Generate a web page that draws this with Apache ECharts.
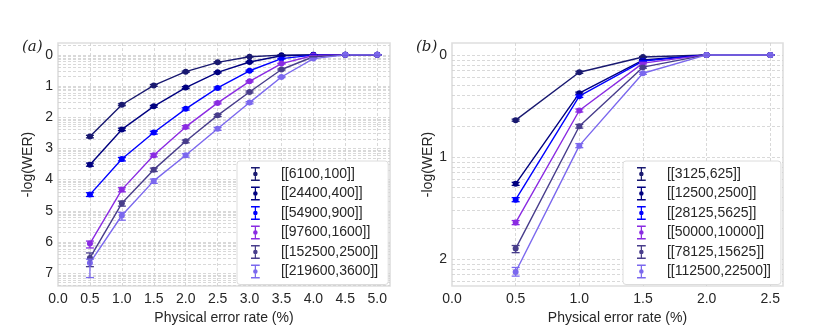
<!DOCTYPE html>
<html><head><meta charset="utf-8">
<script src="https://cdn.jsdelivr.net/npm/echarts@6/dist/echarts.min.js"></script>
<style>html,body{margin:0;padding:0;background:#fff}#c{width:831px;height:330px}</style>
</head><body><div id="c"></div>
<script>
// ---------- data ----------
const xA = [0.5, 1.0, 1.5, 2.0, 2.5, 3.0, 3.5, 4.0, 4.5, 5.0];
const xTicksA = [0, 0.5, 1, 1.5, 2, 2.5, 3, 3.5, 4, 4.5, 5];
const yTicksA = [0, 1, 2, 3, 4, 5, 6, 7];
const namesA = ['[[6100,100]]', '[[24400,400]]', '[[54900,900]]', '[[97600,1600]]', '[[152500,2500]]', '[[219600,3600]]'];
const a1 = [2.62, 1.60, 0.98, 0.54, 0.24, 0.06, 0.01, 0, 0, 0];
const a2 = [3.52, 2.39, 1.65, 1.05, 0.56, 0.23, 0.03, 0, 0, 0];
const a3 = [4.48, 3.34, 2.49, 1.73, 1.06, 0.51, 0.12, 0.01, 0, 0];
const a4 = [6.05, 4.32, 3.22, 2.31, 1.54, 0.85, 0.28, 0.02, 0, 0];
const a5 = [6.51, 4.76, 3.68, 2.77, 1.94, 1.19, 0.47, 0.06, 0, 0];
const a6 = [6.67, 5.15, 4.04, 3.22, 2.37, 1.53, 0.71, 0.12, 0, 0];
// error bar extents (up = toward 0, down = away from 0)
const a1Up = [0.04, 0.03, 0.03, 0.02, 0.02, 0.01, 0.01, 0, 0, 0];
const a1Dn = [0.04, 0.03, 0.03, 0.02, 0.02, 0.01, 0.01, 0, 0, 0];
const a2Up = [0.05, 0.04, 0.03, 0.03, 0.02, 0.02, 0.01, 0, 0, 0];
const a2Dn = [0.05, 0.04, 0.03, 0.03, 0.02, 0.02, 0.01, 0, 0, 0];
const a3Up = [0.06, 0.05, 0.04, 0.03, 0.03, 0.02, 0.01, 0, 0, 0];
const a3Dn = [0.06, 0.06, 0.05, 0.04, 0.03, 0.02, 0.01, 0, 0, 0];
const a4Up = [0.08, 0.06, 0.05, 0.04, 0.03, 0.02, 0.01, 0, 0, 0];
const a4Dn = [0.14, 0.07, 0.05, 0.04, 0.03, 0.02, 0.01, 0, 0, 0];
const a5Up = [0.16, 0.07, 0.05, 0.04, 0.03, 0.03, 0.02, 0.01, 0, 0];
const a5Dn = [0.28, 0.09, 0.06, 0.05, 0.04, 0.03, 0.02, 0.01, 0, 0];
const a6Up = [0.12, 0.10, 0.06, 0.05, 0.04, 0.03, 0.02, 0.01, 0, 0];
const a6Dn = [0.47, 0.15, 0.08, 0.06, 0.05, 0.04, 0.02, 0.01, 0, 0];

const xB = [0.5, 1.0, 1.5, 2.0, 2.5];
const xTicksB = [0, 0.5, 1, 1.5, 2, 2.5];
const yTicksB = [0, 1, 2];
const namesB = ['[[3125,625]]', '[[12500,2500]]', '[[28125,5625]]', '[[50000,10000]]', '[[78125,15625]]', '[[112500,22500]]'];
const b1 = [0.64, 0.17, 0.02, 0, 0];
const b2 = [1.265, 0.375, 0.05, 0, 0];
const b3 = [1.42, 0.405, 0.06, 0, 0];
const b4 = [1.645, 0.545, 0.08, 0, 0];
const b5 = [1.90, 0.70, 0.12, 0, 0];
const b6 = [2.13, 0.89, 0.18, 0, 0];
const b1Up = [0.01, 0.01, 0.005, 0, 0];
const b1Dn = [0.01, 0.01, 0.005, 0, 0];
const b2Up = [0.015, 0.01, 0.005, 0, 0];
const b2Dn = [0.015, 0.01, 0.005, 0, 0];
const b3Up = [0.02, 0.012, 0.006, 0, 0];
const b3Dn = [0.02, 0.012, 0.006, 0, 0];
const b4Up = [0.02, 0.015, 0.008, 0, 0];
const b4Dn = [0.02, 0.015, 0.008, 0, 0];
const b5Up = [0.03, 0.018, 0.01, 0, 0];
const b5Dn = [0.04, 0.018, 0.01, 0, 0];
const b6Up = [0.045, 0.02, 0.01, 0, 0];
const b6Dn = [0.04, 0.02, 0.01, 0, 0];

const colors = ['#191970', '#000080', '#0000ff', '#8a2be2', '#483d8b', '#7b68ee'];

// ---------- build ----------
const seriesA = [a1, a2, a3, a4, a5, a6];
const upA = [a1Up, a2Up, a3Up, a4Up, a5Up, a6Up];
const dnA = [a1Dn, a2Dn, a3Dn, a4Dn, a5Dn, a6Dn];
const seriesB = [b1, b2, b3, b4, b5, b6];
const upB = [b1Up, b2Up, b3Up, b4Up, b5Up, b6Up];
const dnB = [b1Dn, b2Dn, b3Dn, b4Dn, b5Dn, b6Dn];

const GRID_COLOR = '#cfcfcf';
const FONT = 'Liberation Sans, Arial, sans-serif';
const errIcon = 'path://M0,0H10V1.6H0Z M4.3,0H5.7V16H4.3Z M0,14.4H10V16H0Z M5,5.3A2.6,2.6,0,1,1,5,10.5A2.6,2.6,0,1,1,5,5.3Z';

function logGridValues(lo, hi) {
  const out = [];
  for (let k = Math.floor(lo) - 1; k <= Math.ceil(hi) + 1; k++) {
    for (let m = 1; m <= 9; m++) {
      const v = k - Math.log10(m);
      if (v > lo + 0.005 && v < hi - 0.005) out.push(v);
    }
  }
  return out;
}

function gridSeries(idx, yLo, yHi, xTicks) {
  const data = logGridValues(yLo, yHi).map(v => ({ yAxis: v }))
    .concat(xTicks.filter(x => x > 0).map(x => ({ xAxis: x })));
  return {
    type: 'line', xAxisIndex: idx, yAxisIndex: idx, data: [], z: 1, silent: true,
    markLine: {
      silent: true, z: 1, symbol: ['none', 'none'], label: { show: false }, animation: false,
      lineStyle: { type: [3, 2], color: GRID_COLOR, width: 0.8 },
      data: data
    }
  };
}

function errSeries(idx, xs, ys, up, dn, color, name) {
  return {
    type: 'custom', name: name, xAxisIndex: idx, yAxisIndex: idx, z: 4, silent: true,
    data: xs.map((x, i) => [x, ys[i] - up[i], ys[i] + dn[i]]),
    renderItem: function (params, api) {
      const p0 = api.coord([api.value(0), api.value(1)]);
      const p1 = api.coord([api.value(0), api.value(2)]);
      const w = 4;
      const st = { stroke: color, lineWidth: 1.3, fill: null };
      return {
        type: 'group', children: [
          { type: 'line', shape: { x1: p0[0], y1: p0[1], x2: p1[0], y2: p1[1] }, style: st },
          { type: 'line', shape: { x1: p0[0] - w, y1: p0[1], x2: p0[0] + w, y2: p0[1] }, style: st },
          { type: 'line', shape: { x1: p1[0] - w, y1: p1[1], x2: p1[0] + w, y2: p1[1] }, style: st }
        ]
      };
    }
  };
}

const series = [];
series.push(gridSeries(0, -0.38, 7.41, xTicksA));
series.push(gridSeries(1, -0.117, 2.267, xTicksB));
seriesA.forEach((ys, i) => {
  series.push({
    type: 'line', name: namesA[i], xAxisIndex: 0, yAxisIndex: 0, z: 3,
    data: xA.map((x, j) => [x, ys[j]]), color: colors[i],
    symbol: 'circle', symbolSize: 6, lineStyle: { width: 1.4 }, animation: false
  });
  series.push(errSeries(0, xA, ys, upA[i], dnA[i], colors[i], namesA[i]));
});
seriesB.forEach((ys, i) => {
  series.push({
    type: 'line', name: namesB[i], xAxisIndex: 1, yAxisIndex: 1, z: 3,
    data: xB.map((x, j) => [x, ys[j]]), color: colors[i],
    symbol: 'circle', symbolSize: 6, lineStyle: { width: 1.4 }, animation: false
  });
  series.push(errSeries(1, xB, ys, upB[i], dnB[i], colors[i], namesB[i]));
});

const axisLabelStyle = { color: '#262626', fontSize: 14, fontFamily: FONT };
function xAxisDef(idx, max, ticks) {
  return {
    type: 'value', gridIndex: idx, min: 0, max: max,
    name: 'Physical error rate (%)', nameLocation: 'middle', nameGap: 25,
    nameTextStyle: { color: '#262626', fontSize: 14, fontFamily: FONT },
    axisLine: { show: false }, axisTick: { show: false }, splitLine: { show: false },
    axisLabel: Object.assign({ customValues: ticks, formatter: v => v.toFixed(1), margin: 6 }, axisLabelStyle)
  };
}
function yAxisDef(idx, min, max, ticks, gap) {
  return {
    type: 'value', gridIndex: idx, min: min, max: max, inverse: true,
    name: '-log(WER)', nameLocation: 'middle', nameGap: gap, nameRotate: 90,
    nameTextStyle: { color: '#262626', fontSize: 14, fontFamily: FONT },
    axisLine: { show: false }, axisTick: { show: false }, splitLine: { show: false },
    axisLabel: Object.assign({ customValues: ticks, formatter: v => String(Math.round(v)), margin: 5 }, axisLabelStyle)
  };
}

function legendDef(names, left) {
  return {
    data: names.map(n => ({ name: n, icon: errIcon })),
    orient: 'vertical', left: left, top: 161, z: 20,
    itemWidth: 9, itemHeight: 14, itemGap: 5.5,
    padding: [6, 10, 6, 14],
    backgroundColor: '#ffffff', borderColor: '#dcdcdc', borderWidth: 1, borderRadius: 3,
    itemStyle: { borderWidth: 0 },
    textStyle: { color: '#262626', fontSize: 14, fontFamily: FONT, padding: [0, 0, 0, 16] },
    selectedMode: false
  };
}

const option = {
  animation: false,
  backgroundColor: '#fff',
  grid: [
    { left: 58, top: 43, width: 332, height: 245, show: true, borderColor: '#dedede', borderWidth: 1.6, backgroundColor: '#fff' },
    { left: 452, top: 43, width: 331, height: 245, show: true, borderColor: '#dedede', borderWidth: 1.6, backgroundColor: '#fff' }
  ],
  xAxis: [xAxisDef(0, 5.2, xTicksA), xAxisDef(1, 2.6, xTicksB)],
  yAxis: [yAxisDef(0, -0.38, 7.41, yTicksA, 23), yAxisDef(1, -0.117, 2.267, yTicksB, 9)],
  legend: [legendDef(namesA, 237), legendDef(namesB, 623)],
  graphic: [
    { type: 'text', left: 22, top: 40, style: { text: '(a)', font: 'italic 15px "DejaVu Serif", serif', fill: '#222' } },
    { type: 'text', left: 416, top: 40, style: { text: '(b)', font: 'italic 15px "DejaVu Serif", serif', fill: '#222' } }
  ],
  series: series
};

const chart = echarts.init(document.getElementById('c'), null, { renderer: 'canvas' });
chart.setOption(option);
</script>
</body></html>
